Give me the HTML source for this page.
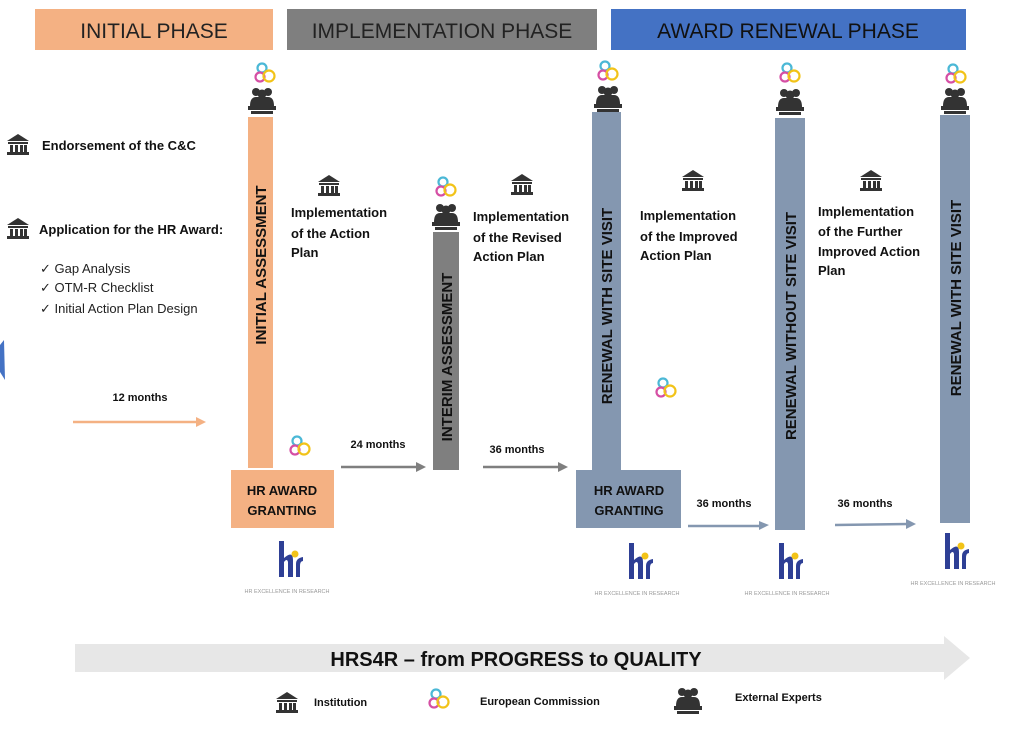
<!DOCTYPE html>
<html><head><meta charset="utf-8"><style>
html,body{margin:0;padding:0;background:#fff;}
svg{display:block;font-family:"Liberation Sans",sans-serif;}
.b{font-weight:bold;fill:#111;}
</style></head><body>
<svg width="1024" height="729" viewBox="0 0 1024 729" xmlns="http://www.w3.org/2000/svg">
<defs>
<g id="inst">
<polygon points="0,7 11,0 22,7" fill="#333"/>
<rect x="1" y="8" width="20" height="2" fill="#333"/>
<rect x="3" y="11" width="3" height="7" fill="#333"/><rect x="8" y="11" width="3" height="7" fill="#333"/><rect x="13" y="11" width="3" height="7" fill="#333"/><rect x="17" y="11" width="3" height="7" fill="#333"/>
<rect x="0" y="18" width="22" height="3" fill="#333"/>
</g>
<g id="ec" fill="none" stroke-width="2.2">
<circle cx="8" cy="6" r="4.5" stroke="#4bb8d6"/>
<circle cx="6" cy="15" r="4.5" stroke="#d54fa4"/>
<circle cx="15" cy="14" r="5.5" stroke="#f2c318"/>
</g>
<g id="exp" fill="#333">
<circle cx="8" cy="6" r="4"/><circle cx="20" cy="6" r="4"/><circle cx="14" cy="8" r="4.5"/>
<path d="M2,20 Q2,11 8,11 L20,11 Q26,11 26,20 Z"/>
<rect x="0" y="20" width="28" height="4"/>
<rect x="3" y="25" width="22" height="3"/>
</g>
</defs>

<!-- phase headers -->
<rect x="35" y="9" width="238" height="41" fill="#f4b183"/>
<text x="154" y="38" font-size="21" text-anchor="middle" fill="#222">INITIAL PHASE</text>
<rect x="287" y="9" width="310" height="41" fill="#7f7f7f"/>
<text x="442" y="38" font-size="21" text-anchor="middle" fill="#222">IMPLEMENTATION PHASE</text>
<rect x="611" y="9" width="355" height="41" fill="#4472c4"/>
<text x="788" y="38" font-size="21" text-anchor="middle" fill="#111">AWARD RENEWAL PHASE</text>

<!-- left text -->
<use href="#inst" x="7" y="134"/>
<text x="42" y="150" class="b" font-size="13">Endorsement of the C&amp;C</text>
<use href="#inst" x="7" y="218"/>
<text x="39" y="234" class="b" font-size="13">Application for the HR Award:</text>
<text x="40" y="273" font-size="13" fill="#222">✓ Gap Analysis</text>
<text x="40" y="292" font-size="13" fill="#222">✓ OTM-R Checklist</text>
<text x="40" y="313" font-size="13" fill="#222">✓ Initial Action Plan Design</text>
<polygon points="0,345 4,340 5,380 0,372" fill="#4472c4"/>

<text x="140" y="401" class="b" font-size="11" text-anchor="middle">12 months</text>
<line x1="73" y1="422" x2="198" y2="422" stroke="#f4b183" stroke-width="2.5"/>
<polygon points="196,417 206,422 196,427" fill="#f4b183"/>

<!-- initial assessment -->
<use href="#ec" x="254" y="62"/>
<use href="#exp" x="248" y="86"/>
<rect x="248" y="117" width="25" height="351" fill="#f4b183"/>
<text transform="translate(266,265) rotate(-90)" class="b" font-size="15" text-anchor="middle">INITIAL ASSESSMENT</text>
<rect x="231" y="470" width="103" height="58" fill="#f4b183"/>
<text x="282" y="495" class="b" font-size="13" text-anchor="middle">HR AWARD</text>
<text x="282" y="515" class="b" font-size="13" text-anchor="middle">GRANTING</text>
<use href="#ec" x="289" y="435"/>

<use href="#inst" x="318" y="175"/>
<text class="b" font-size="13" fill="#111"><tspan x="291" y="217">Implementation</tspan><tspan x="291" y="238">of the Action</tspan><tspan x="291" y="257">Plan</tspan></text>

<text x="378" y="448" class="b" font-size="11" text-anchor="middle">24 months</text>
<line x1="341" y1="467" x2="418" y2="467" stroke="#7f7f7f" stroke-width="2.5"/>
<polygon points="416,462 426,467 416,472" fill="#7f7f7f"/>

<!-- interim -->
<use href="#ec" x="435" y="176"/>
<use href="#exp" x="432" y="202"/>
<rect x="433" y="232" width="26" height="238" fill="#7f7f7f"/>
<text transform="translate(452,357) rotate(-90)" class="b" font-size="15" text-anchor="middle">INTERIM ASSESSMENT</text>

<use href="#inst" x="511" y="174"/>
<text class="b" font-size="13" fill="#111"><tspan x="473" y="221">Implementation</tspan><tspan x="473" y="242">of the Revised</tspan><tspan x="473" y="261">Action Plan</tspan></text>

<text x="517" y="453" class="b" font-size="11" text-anchor="middle">36 months</text>
<line x1="483" y1="467" x2="560" y2="467" stroke="#7f7f7f" stroke-width="2.5"/>
<polygon points="558,462 568,467 558,472" fill="#7f7f7f"/>

<!-- renewal with site visit -->
<use href="#ec" x="597" y="60"/>
<use href="#exp" x="594" y="84"/>
<rect x="592" y="112" width="29" height="358" fill="#8497b0"/>
<text transform="translate(612,306) rotate(-90)" class="b" font-size="15" text-anchor="middle">RENEWAL WITH SITE VISIT</text>
<rect x="576" y="470" width="105" height="58" fill="#8497b0"/>
<text x="629" y="495" class="b" font-size="13" text-anchor="middle">HR AWARD</text>
<text x="629" y="515" class="b" font-size="13" text-anchor="middle">GRANTING</text>
<use href="#ec" x="655" y="377"/>

<use href="#inst" x="682" y="170"/>
<text class="b" font-size="13" fill="#111"><tspan x="640" y="220">Implementation</tspan><tspan x="640" y="241">of the Improved</tspan><tspan x="640" y="260">Action Plan</tspan></text>

<text x="724" y="507" class="b" font-size="11" text-anchor="middle">36 months</text>
<line x1="688" y1="526" x2="761" y2="526" stroke="#8497b0" stroke-width="2.5"/>
<polygon points="759,521 769,525 759,530" fill="#8497b0"/>

<!-- renewal without -->
<use href="#ec" x="779" y="62"/>
<use href="#exp" x="776" y="87"/>
<rect x="775" y="118" width="30" height="412" fill="#8497b0"/>
<text transform="translate(796,326) rotate(-90)" class="b" font-size="15" text-anchor="middle">RENEWAL WITHOUT SITE VISIT</text>

<use href="#inst" x="860" y="170"/>
<text class="b" font-size="13" fill="#111"><tspan x="818" y="216">Implementation</tspan><tspan x="818" y="236">of the Further</tspan><tspan x="818" y="256">Improved Action</tspan><tspan x="818" y="275">Plan</tspan></text>

<text x="865" y="507" class="b" font-size="11" text-anchor="middle">36 months</text>
<line x1="835" y1="525" x2="908" y2="524" stroke="#8497b0" stroke-width="2.5"/>
<polygon points="906,519 916,524 906,529" fill="#8497b0"/>

<!-- renewal with (last) -->
<use href="#ec" x="945" y="63"/>
<use href="#exp" x="941" y="86"/>
<rect x="940" y="115" width="30" height="408" fill="#8497b0"/>
<text transform="translate(961,298) rotate(-90)" class="b" font-size="15" text-anchor="middle">RENEWAL WITH SITE VISIT</text>

<!-- hr logos -->
<g id="hr1">
<rect x="279" y="541" width="5" height="36" fill="#2e3f95"/>
<path d="M284,558 Q293,550 293,560 L293,577 L288,577 L288,562 Q287,558 284,562 Z" fill="#2e3f95"/>
<circle cx="295" cy="554" r="3.5" fill="#f2c318"/>
<path d="M296,577 L296,564 Q296,558 303,557 L303,561 Q300,561 300,566 L300,577 Z" fill="#2e3f95"/>
<text x="287" y="593" font-size="5.5" fill="#999" text-anchor="middle">HR EXCELLENCE IN RESEARCH</text>
</g>
<use href="#hr1" x="350" y="2"/>
<use href="#hr1" x="500" y="2"/>
<use href="#hr1" x="666" y="-8"/>

<!-- bottom arrow -->
<polygon points="75,644 944,644 944,636 970,658 944,680 944,672 75,672" fill="#e7e7e7"/>
<text x="516" y="666" class="b" font-size="20" text-anchor="middle">HRS4R – from PROGRESS to QUALITY</text>

<!-- legend -->
<use href="#inst" x="276" y="692"/>
<text x="314" y="706" class="b" font-size="11">Institution</text>
<use href="#ec" x="428" y="688"/>
<text x="480" y="705" class="b" font-size="11">European Commission</text>
<use href="#exp" x="674" y="686"/>
<text x="735" y="701" class="b" font-size="11">External Experts</text>
</svg>
</body></html>
